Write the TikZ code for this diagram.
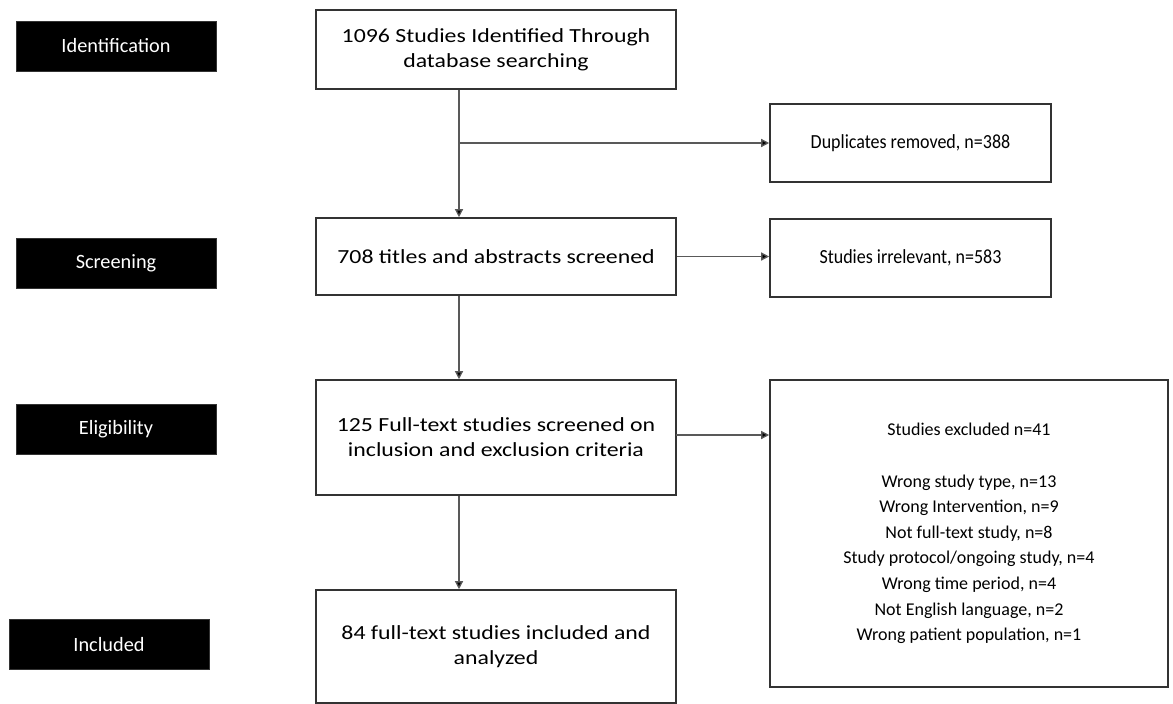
\documentclass[tikz,border=0pt]{standalone}
\usepackage{fontspec}
\setmainfont{Carlito}
\newfontfamily\widefont[FakeStretch=1.19]{Carlito}
\newfontfamily\narrowfont[FakeStretch=0.9]{Carlito}
\usetikzlibrary{arrows.meta}
\begin{document}
\begin{tikzpicture}[x=1pt,y=-1pt,
  stage/.style={fill=black,draw=black!80,text=white,minimum width=200pt,minimum height=50pt,inner sep=0pt,font=\fontsize{20.3}{24}\selectfont},
  box/.style={draw=black!80,line width=1.6pt,fill=white,align=center,inner sep=0pt,font=\fontsize{18}{25.6}\selectfont},
  mainbox/.style={box,minimum width=360pt,font=\widefont\fontsize{20}{25}\selectfont},
  sidebox/.style={box,minimum width=281pt,minimum height=78pt,font=\narrowfont\fontsize{20}{25}\selectfont},
  arr/.style={draw=black!65,line width=1.3pt,-{Triangle[length=8pt,width=8pt,fill=black]}}]
\useasboundingbox[fill=white] (0,0) rectangle (1173,704);
% stage labels
\node[stage] (s1) at (116,46) {Identification};
\node[stage] (s2) at (116,263) {Screening};
\node[stage] (s3) at (116,429.5) {Eligibility};
\node[stage] (s4) at (109,644.5) {Included};
% main boxes
\node[mainbox,minimum height=79pt] (b1) at (496,49.5) {1096 Studies Identified Through\\database searching};
\node[mainbox,minimum height=77pt] (b2) at (496,256.5) {708 titles and abstracts screened};
\node[mainbox,minimum height=115pt] (b3) at (496,437.5) {125 Full-text studies screened on\\inclusion and exclusion criteria};
\node[mainbox,minimum height=113pt] (b4) at (496,646.5) {84 full-text studies included and\\analyzed};
% side boxes
\node[sidebox] (d) at (910.5,143) {Duplicates removed, n=388};
\node[sidebox] (irr) at (910.5,258) {Studies irrelevant, n=583};
\node[box,minimum width=398pt,minimum height=307pt] (ex) at (969,533.5) {Studies excluded n=41\\[25.6pt]
Wrong study type, n=13\\
Wrong Intervention, n=9\\
Not full-text study, n=8\\
Study protocol/ongoing study, n=4\\
Wrong time period, n=4\\
Not English language, n=2\\
Wrong patient population, n=1};
% connectors
\coordinate (xl) at (459,0);
\draw[arr] (b1.south -| xl) -- (b2.north -| xl);
\draw[arr] (b2.south -| xl) -- (b3.north -| xl);
\draw[arr] (b3.south -| xl) -- (b4.north -| xl);
\draw[arr] (d.west -| xl) -- (d.west);
\draw[arr] (b2.east) -- (b2.east -| irr.west);
\coordinate (e3) at (676,435);
\draw[arr] (e3) -- (e3 -| ex.west);
\end{tikzpicture}
\end{document}
